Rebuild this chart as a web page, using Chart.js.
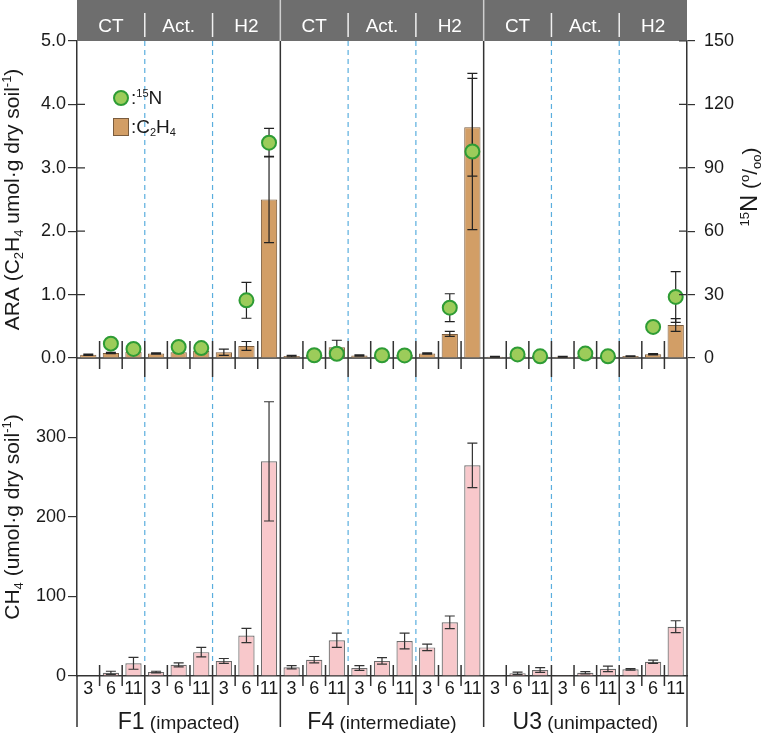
<!DOCTYPE html>
<html lang="en">
<head>
<meta charset="UTF-8">
<title>ARA, 15N and CH4 by site and treatment</title>
<script src="https://cdn.jsdelivr.net/npm/chart.js"></script>
<style>
  body { margin: 0; background: #fff; }
  #wrap { position: relative; width: 766px; height: 735px; }
  #wrap canvas { position: absolute; left: 0; top: 0; }
</style>
</head>
<body>
<div id="wrap">
  <canvas id="topChart" width="766" height="735"></canvas>
  <canvas id="bottomChart" width="766" height="735"></canvas>
</div>
<script>
const sites = ['F1', 'F4', 'U3'];
const siteNotes = ['(impacted)', '(intermediate)', '(unimpacted)'];
const treatments = ['CT', 'Act.', 'H2'];
const days = ['3', '6', '11'];

// order: F1 | F4 | U3, each CT, Act., H2, each day 3, 6, 11
const araMean = [
  0.05, 0.08, 0.10, 0.07, 0.09, 0.11, 0.09, 0.19, 2.50,
  0.03, 0.05, 0.17, 0.04, 0.04, 0.05, 0.07, 0.38, 3.64,
  0.02, 0.03, 0.03, 0.02, 0.03, 0.03, 0.03, 0.06, 0.52
];
const araErr = [
  0.01, 0.01, 0.02, 0.01, 0.01, 0.02, 0.05, 0.07, 0.68,
  0.01, 0.01, 0.11, 0.01, 0.01, 0.01, 0.01, 0.04, 0.77,
  0.005, 0.005, 0.005, 0.005, 0.005, 0.005, 0.005, 0.01, 0.10
];
const n15Mean = [
  null, 6.8, 4.3, null, 5.2, 4.7, null, 27.3, 101.9,
  null, 1.3, 2.0, null, 1.3, 1.2, null, 23.8, 97.7,
  null, 1.7, 0.8, null, 2.1, 0.8, null, 14.7, 28.9
];
const n15Err = [
  0, 0, 0, 0, 0, 0, 0, 8.5, 6.8,
  0, 0, 0, 0, 0, 0, 0, 6.6, 37,
  0, 0, 0, 0, 0, 0, 0, 0, 12
];
const ch4Mean = [
  0, 4, 16, 5, 14, 30, 19, 51, 270,
  11, 20.5, 45, 10, 19, 44, 36, 67.5, 265,
  1, 3.4, 7.5, 1, 4, 9, 8.4, 18, 62
];
const ch4Err = [
  0, 2, 7.5, 1, 2.5, 6, 3, 9, 75,
  2, 4, 9, 3, 4, 10, 4, 8, 28,
  0, 1.5, 3, 0, 1.5, 3.5, 1, 2, 7.5
];
const araTicks = [0, 1, 2, 3, 4, 5];
const n15Ticks = [0, 30, 60, 90, 120, 150];
const ch4Ticks = [0, 100, 200, 300];

const labels = sites.flatMap(() => treatments.flatMap(() => days));

const font = "'Liberation Sans', Arial, Helvetica, sans-serif";
Chart.defaults.font.family = font;
Chart.defaults.color = '#1a1a1a';

const lineCol = '#333333';
const dashCol = '#5aaede';

// text with sub/superscripts, parts = [text, 'n'|'sub'|'sup', size]
function drawRich(ctx, x, y, parts, size, angle, align) {
  ctx.save();
  ctx.translate(x, y);
  ctx.rotate(angle || 0);
  ctx.textBaseline = 'alphabetic';
  ctx.textAlign = 'left';
  const items = parts.map(p => {
    const t = p[0], kind = p[1] || 'n', s = p[2] || size;
    const fs = kind === 'n' ? s : Math.round(s * 0.6);
    const dy = kind === 'sub' ? s * 0.18 : kind === 'sup' ? -s * 0.38 : 0;
    ctx.font = fs + 'px ' + font;
    return { t, fs, dy, w: ctx.measureText(t).width };
  });
  const total = items.reduce((acc, it) => acc + it.w, 0);
  let cx = align === 'left' ? 0 : -total / 2;
  items.forEach(it => {
    ctx.font = it.fs + 'px ' + font;
    ctx.fillText(it.t, cx, it.dy);
    cx += it.w;
  });
  ctx.restore();
}

function errorBar(ctx, px, yScale, mean, err, cap) {
  if (mean == null || !err) return;
  const hi = yScale.getPixelForValue(mean + err);
  const lo = yScale.getPixelForValue(Math.max(mean - err, 0));
  ctx.beginPath();
  ctx.moveTo(px, hi); ctx.lineTo(px, lo);
  ctx.moveTo(px - cap, hi); ctx.lineTo(px + cap, hi);
  ctx.moveTo(px - cap, lo); ctx.lineTo(px + cap, lo);
  ctx.stroke();
}

function edges(x) {
  const slot = x.getPixelForValue(1) - x.getPixelForValue(0);
  return i => x.getPixelForValue(i) - slot / 2;
}

const topDecor = {
  id: 'topDecor',
  beforeDatasetsDraw(chart) {
    const { ctx, chartArea: a, scales: { x, y } } = chart;
    const edge = edges(x);
    const zero = y.getPixelForValue(0);
    ctx.save();
    // header band
    ctx.fillStyle = '#6e6e6e';
    ctx.fillRect(a.left, 0, a.right - a.left, a.top);
    ctx.fillStyle = '#ffffff';
    ctx.font = '19px ' + font;
    ctx.textAlign = 'center';
    ctx.textBaseline = 'alphabetic';
    for (let g = 0; g < 9; g++) {
      const cx = (x.getPixelForValue(g * 3) + x.getPixelForValue(g * 3 + 2)) / 2;
      ctx.fillText(treatments[g % 3], cx, 32);
    }
    ctx.lineWidth = 1.5;
    for (let i = 3; i < labels.length; i += 3) {
      const px = edge(i);
      ctx.strokeStyle = i % 9 === 0 ? '#cfcfcf' : '#f0f0f0';
      ctx.beginPath();
      if (i % 9 === 0) { ctx.moveTo(px, 0); ctx.lineTo(px, a.top); }
      else { ctx.moveTo(px, 13); ctx.lineTo(px, 37); }
      ctx.stroke();
    }
    // dashed treatment dividers
    ctx.strokeStyle = dashCol;
    ctx.lineWidth = 1.2;
    ctx.setLineDash([5, 4]);
    for (let i = 3; i < labels.length; i += 3) {
      if (i % 9 === 0) continue;
      const px = edge(i);
      ctx.beginPath(); ctx.moveTo(px, a.top); ctx.lineTo(px, zero - 17); ctx.stroke();
    }
    ctx.setLineDash([]);
    // zero line, site dividers, category ticks
    ctx.strokeStyle = lineCol;
    ctx.lineWidth = 1.5;
    ctx.beginPath();
    ctx.moveTo(a.left, zero); ctx.lineTo(a.right, zero);
    for (let i = 1; i < labels.length; i++) {
      const px = edge(i);
      if (i % 9 === 0) { ctx.moveTo(px, a.top); ctx.lineTo(px, zero); }
      else if (i % 3 === 0) { ctx.moveTo(px, zero - 17); ctx.lineTo(px, zero + 19); }
      else { ctx.moveTo(px, zero - 17); ctx.lineTo(px, zero + 11); }
    }
    ctx.stroke();
    ctx.restore();
  },
  afterDatasetDraw(chart, args) {
    if (args.index !== 0) return;
    const { ctx, scales: { x, y, y1 } } = chart;
    ctx.save();
    ctx.strokeStyle = '#222';
    ctx.lineWidth = 1.2;
    araMean.forEach((v, i) => errorBar(ctx, x.getPixelForValue(i), y, v, araErr[i], 5));
    n15Mean.forEach((v, i) => errorBar(ctx, x.getPixelForValue(i), y1, v, n15Err[i], 5));
    ctx.restore();
  },
  afterDraw(chart) {
    const { ctx, chartArea: a, scales: { y, y1 } } = chart;
    ctx.save();
    // inner half of the y ticks
    ctx.strokeStyle = lineCol;
    ctx.lineWidth = 1.2;
    ctx.beginPath();
    y.ticks.forEach(t => {
      if (t.value === 0 || t.value === 5) return;
      const py = y.getPixelForValue(t.value);
      ctx.moveTo(a.left, py); ctx.lineTo(a.left + 8, py);
    });
    y1.ticks.forEach(t => {
      if (t.value === 0) return;
      const py = y1.getPixelForValue(t.value);
      ctx.moveTo(a.right - 8, py); ctx.lineTo(a.right, py);
    });
    ctx.stroke();
    // legend
    ctx.fillStyle = '#9ccc5a';
    ctx.strokeStyle = '#2e9c35';
    ctx.lineWidth = 2;
    ctx.beginPath(); ctx.arc(121, 98, 7, 0, Math.PI * 2); ctx.fill(); ctx.stroke();
    ctx.fillStyle = '#d29e66';
    ctx.strokeStyle = '#7a5c3e';
    ctx.lineWidth = 1;
    ctx.fillRect(113.5, 118.5, 15, 17); ctx.strokeRect(113.5, 118.5, 15, 17);
    ctx.fillStyle = '#1a1a1a';
    drawRich(ctx, 131, 104, [[':'], ['15', 'sup'], ['N']], 19, 0, 'left');
    drawRich(ctx, 131, 133, [[':C'], ['2', 'sub'], ['H'], ['4', 'sub']], 19, 0, 'left');
    // axis titles
    drawRich(ctx, 19, (a.top + a.bottom) / 2,
      [['ARA (C'], ['2', 'sub'], ['H'], ['4', 'sub'], [' umol·g dry soil'], ['-1', 'sup'], [')']],
      21, -Math.PI / 2);
    drawRich(ctx, 757, 187,
      [['15', 'sup', 22], ['N', 'n', 24], [' ('], ['o', 'sup'], ['/'], ['oo', 'sub'], [')']],
      21, -Math.PI / 2);
    ctx.restore();
  }
};

const bottomDecor = {
  id: 'bottomDecor',
  beforeDatasetsDraw(chart) {
    const { ctx, chartArea: a, scales: { x, y } } = chart;
    const edge = edges(x);
    const zero = y.getPixelForValue(0);
    ctx.save();
    ctx.strokeStyle = dashCol;
    ctx.lineWidth = 1.2;
    ctx.setLineDash([5, 4]);
    for (let i = 3; i < labels.length; i += 3) {
      if (i % 9 === 0) continue;
      const px = edge(i);
      ctx.beginPath(); ctx.moveTo(px, a.top + 19); ctx.lineTo(px, zero - 11); ctx.stroke();
    }
    ctx.restore();
  },
  afterDatasetsDraw(chart) {
    const { ctx, scales: { x, y } } = chart;
    ctx.save();
    ctx.strokeStyle = '#333';
    ctx.lineWidth = 1.2;
    ch4Mean.forEach((v, i) => errorBar(ctx, x.getPixelForValue(i), y, v, ch4Err[i], 5));
    ctx.restore();
  },
  afterDraw(chart) {
    const { ctx, chartArea: a, scales: { x, y } } = chart;
    const edge = edges(x);
    const zero = y.getPixelForValue(0);
    const foot = 727;
    ctx.save();
    ctx.strokeStyle = lineCol;
    ctx.lineWidth = 1.5;
    ctx.beginPath();
    ctx.moveTo(a.left, zero); ctx.lineTo(a.left, foot);
    ctx.moveTo(a.right, a.top); ctx.lineTo(a.right, foot);
    for (let i = 1; i < labels.length; i++) {
      const px = edge(i);
      if (i % 9 === 0) { ctx.moveTo(px, a.top); ctx.lineTo(px, foot); }
      else if (i % 3 === 0) { ctx.moveTo(px, zero - 11); ctx.lineTo(px, zero + 29); }
      else { ctx.moveTo(px, zero - 11); ctx.lineTo(px, zero + 10); }
    }
    ctx.stroke();
    // site names
    ctx.fillStyle = '#1a1a1a';
    sites.forEach((s, k) => {
      const cx = (edge(k * 9) + edge(k * 9 + 9)) / 2;
      drawRich(ctx, cx, 729, [[s, 'n', 23], [' ' + siteNotes[k], 'n', 19]], 19);
    });
    drawRich(ctx, 19, (a.top + a.bottom) / 2,
      [['CH'], ['4', 'sub'], [' (umol·g dry soil'], ['-1', 'sup'], [')']],
      21, -Math.PI / 2);
    ctx.restore();
  }
};

const tickFont = { size: 18 };

new Chart(document.getElementById('topChart'), {
  type: 'bar',
  data: {
    labels: labels,
    datasets: [{
      label: 'C2H4',
      data: araMean,
      yAxisID: 'y',
      order: 2,
      backgroundColor: '#d29e66',
      borderColor: '#7a5c3e',
      borderWidth: 1,
      barPercentage: 0.72,
      categoryPercentage: 1
    }, {
      type: 'line',
      label: '15N',
      data: n15Mean,
      yAxisID: 'y1',
      order: 1,
      showLine: false,
      clip: false,
      pointRadius: 7,
      pointBorderWidth: 2,
      pointBackgroundColor: '#9ccc5a',
      pointBorderColor: '#2e9c35'
    }]
  },
  options: {
    responsive: false,
    animation: false,
    events: [],
    layout: { padding: { top: 41, bottom: 377, left: 0, right: 0 } },
    plugins: { legend: { display: false }, tooltip: { enabled: false } },
    scales: {
      x: { display: false },
      y: {
        position: 'left',
        min: 0, max: 5,
        afterBuildTicks: s => { s.ticks = araTicks.map(v => ({ value: v })); },
        afterFit: s => { s.width = 77; },
        ticks: { font: tickFont, padding: 2, callback: v => Number(v).toFixed(1) },
        grid: { display: true, drawOnChartArea: false, tickLength: 9, color: lineCol, lineWidth: 1.2 },
        border: { display: true, color: lineCol, width: 1.5 }
      },
      y1: {
        position: 'right',
        min: 0, max: 150,
        afterBuildTicks: s => { s.ticks = n15Ticks.map(v => ({ value: v })); },
        afterFit: s => { s.width = 79; },
        ticks: { font: tickFont, padding: 9 },
        grid: { display: true, drawOnChartArea: false, tickLength: 8, color: lineCol, lineWidth: 1.2 },
        border: { display: true, color: lineCol, width: 1.5 }
      }
    }
  },
  plugins: [topDecor]
});

new Chart(document.getElementById('bottomChart'), {
  type: 'bar',
  data: {
    labels: labels,
    datasets: [{
      label: 'CH4',
      data: ch4Mean,
      backgroundColor: '#f8c8cb',
      borderColor: '#6b6b6b',
      borderWidth: 1.2,
      barPercentage: 0.72,
      categoryPercentage: 1
    }]
  },
  options: {
    responsive: false,
    animation: false,
    events: [],
    layout: { padding: { top: 358, bottom: 0, left: 0, right: 79 } },
    plugins: { legend: { display: false }, tooltip: { enabled: false } },
    scales: {
      x: {
        afterFit: s => { s.height = 59; },
        ticks: { font: tickFont, padding: 2, autoSkip: false, maxRotation: 0, minRotation: 0 },
        grid: { display: true, drawOnChartArea: false, drawTicks: false },
        border: { display: true, color: lineCol, width: 1.5 }
      },
      y: {
        min: 0, max: 400,
        afterBuildTicks: s => { s.ticks = ch4Ticks.map(v => ({ value: v })); },
        afterFit: s => { s.width = 77; },
        ticks: { font: tickFont, padding: 2 },
        grid: { display: true, drawOnChartArea: false, tickLength: 9, color: lineCol, lineWidth: 1.2 },
        border: { display: true, color: lineCol, width: 1.5 }
      }
    }
  },
  plugins: [bottomDecor]
});
</script>
</body>
</html>
